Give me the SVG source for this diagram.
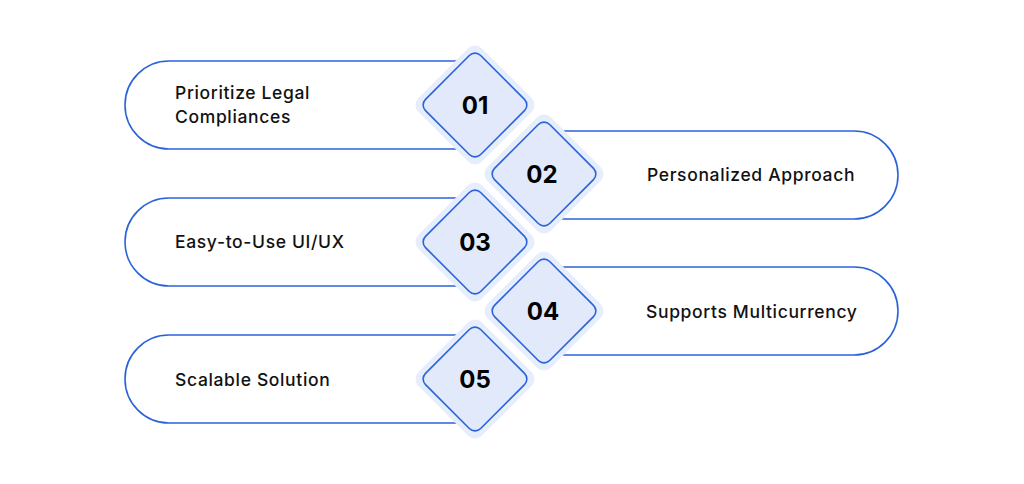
<svg xmlns="http://www.w3.org/2000/svg" width="1024" height="484" viewBox="0 0 1024 484">
<style>
.pill{fill:none;stroke:#2b63d9;stroke-width:1.6}
.halo{fill:#e6edfc}
.dia{fill:#e1e9fb;stroke:#2b63d9;stroke-width:1.6}
.lbl{font-family:Inter,"Liberation Sans",sans-serif;font-size:17.5px;font-weight:500;letter-spacing:0.65px;fill:#111}
.num{font-family:Inter,"Liberation Sans",sans-serif;font-size:24px;font-weight:700;fill:#000;text-anchor:middle}
</style>
<rect width="1024" height="484" fill="#fff"/>
<g id="connectors">
<path class="pill" d="M470,61 H169 A44,44 0 0 0 169,149 H470"/>
<path class="pill" d="M550,131 H854 A44,44 0 0 1 854,219 H550"/>
<path class="pill" d="M470,198 H169 A44,44 0 0 0 169,286 H470"/>
<path class="pill" d="M550,267 H854 A44,44 0 0 1 854,355 H550"/>
<path class="pill" d="M470,335 H169 A44,44 0 0 0 169,423 H470"/>
</g>
<g id="node1">
<rect class="halo" x="-45" y="-45" width="90" height="90" rx="10" transform="translate(475,105) rotate(45)"/>
<rect class="dia" x="-39" y="-39" width="78" height="78" rx="8" transform="translate(475,105) rotate(45)"/>
<text class="num" x="475" y="114">01</text>
<text class="lbl" x="175" y="99">Prioritize Legal</text>
<text class="lbl" x="175" y="123">Compliances</text>
</g>
<g id="node2">
<rect class="halo" x="-45" y="-45" width="90" height="90" rx="10" transform="translate(544,174) rotate(45)"/>
<rect class="dia" x="-39" y="-39" width="78" height="78" rx="8" transform="translate(544,174) rotate(45)"/>
<text class="num" x="542" y="183">02</text>
<text class="lbl" x="647" y="181">Personalized Approach</text>
</g>
<g id="node3">
<rect class="halo" x="-45" y="-45" width="90" height="90" rx="10" transform="translate(475,242) rotate(45)"/>
<rect class="dia" x="-39" y="-39" width="78" height="78" rx="8" transform="translate(475,242) rotate(45)"/>
<text class="num" x="475" y="251">03</text>
<text class="lbl" x="175" y="248">Easy-to-Use UI/UX</text>
</g>
<g id="node4">
<rect class="halo" x="-45" y="-45" width="90" height="90" rx="10" transform="translate(544,311) rotate(45)"/>
<rect class="dia" x="-39" y="-39" width="78" height="78" rx="8" transform="translate(544,311) rotate(45)"/>
<text class="num" x="543" y="320">04</text>
<text class="lbl" x="646" y="318">Supports Multicurrency</text>
</g>
<g id="node5">
<rect class="halo" x="-45" y="-45" width="90" height="90" rx="10" transform="translate(475,379) rotate(45)"/>
<rect class="dia" x="-39" y="-39" width="78" height="78" rx="8" transform="translate(475,379) rotate(45)"/>
<text class="num" x="475" y="388">05</text>
<text class="lbl" x="175" y="386">Scalable Solution</text>
</g>
</svg>
